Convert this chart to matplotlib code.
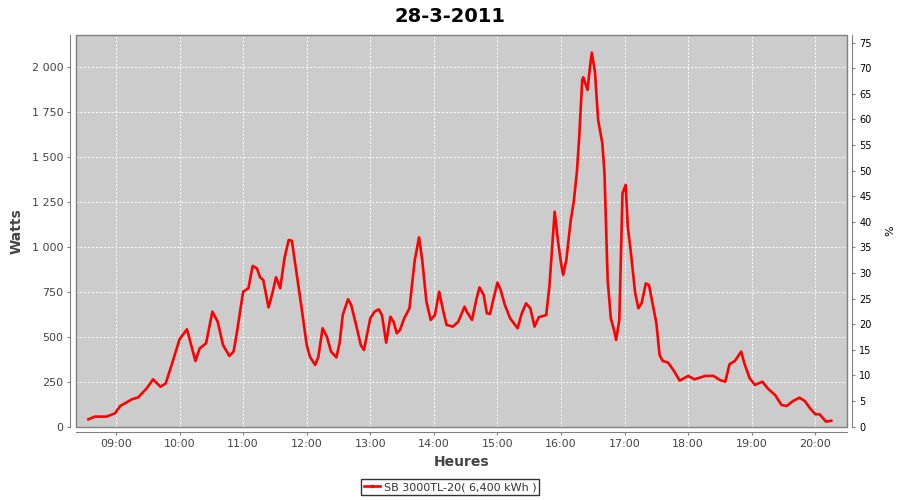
"""Production journalière de l'onduleur SB 3000TL-20 (28-3-2011)."""

import matplotlib
matplotlib.use("Agg")
import matplotlib.dates as mdates
import matplotlib.pyplot as plt
import pandas as pd
from matplotlib.lines import Line2D
from matplotlib.patches import Rectangle
from matplotlib.ticker import FuncFormatter, MultipleLocator

DAY = "2011-03-28"
TITLE = "28-3-2011"
SERIES_LABEL = "SB 3000TL-20( 6,400 kWh )"

# Relevés (heure, puissance en W)
TIMES = [
    "08:34", "08:40", "08:51", "08:59", "09:04", "09:15", "09:21", "09:29", "09:35", "09:42",
    "09:47", "09:53", "10:00", "10:07", "10:15", "10:19", "10:25", "10:31", "10:36", "10:41",
    "10:47", "10:51", "10:54", "11:00", "11:05", "11:09", "11:13", "11:16", "11:19", "11:24",
    "11:28", "11:31", "11:35", "11:39", "11:43", "11:46", "11:50", "11:55", "12:00", "12:03",
    "12:08", "12:11", "12:15", "12:19", "12:23", "12:28", "12:31", "12:34", "12:39", "12:42",
    "12:47", "12:51", "12:54", "13:00", "13:04", "13:08", "13:11", "13:15", "13:19", "13:22",
    "13:25", "13:28", "13:32", "13:37", "13:39", "13:42", "13:46", "13:49", "13:53", "13:57",
    "14:01", "14:05", "14:09", "14:12", "14:18", "14:23", "14:29", "14:31", "14:36", "14:40",
    "14:43", "14:47", "14:50", "14:53", "14:56", "15:00", "15:03", "15:07", "15:12", "15:19",
    "15:23", "15:27", "15:31", "15:35", "15:39", "15:46", "15:49", "15:54", "15:57", "16:00",
    "16:02", "16:05", "16:09", "16:12", "16:15", "16:17", "16:20", "16:21", "16:25", "16:27",
    "16:29", "16:32", "16:35", "16:39", "16:41", "16:44", "16:47", "16:50", "16:52", "16:55",
    "16:58", "17:01", "17:03", "17:06", "17:10", "17:13", "17:16", "17:20", "17:23", "17:27",
    "17:30", "17:33", "17:36", "17:41", "17:46", "17:52", "18:00", "18:06", "18:16", "18:24",
    "18:30", "18:35", "18:39", "18:44", "18:50", "18:53", "18:58", "19:03", "19:10", "19:15",
    "19:22", "19:28", "19:33", "19:39", "19:45", "19:50", "19:55", "20:00", "20:04", "20:10",
    "20:15",
]
WATTS = [
    41, 56, 56, 74, 115, 152, 163, 213, 263, 222,
    241, 352, 486, 541, 365, 435, 463, 639, 583, 454,
    393, 417, 519, 750, 769, 893, 880, 830, 815, 663,
    750, 830, 769, 935, 1037, 1033, 870, 667, 454, 389,
    343, 389, 547, 500, 417, 385, 463, 620, 708, 676,
    556, 454, 426, 602, 639, 652, 620, 467, 611, 583,
    519, 537, 602, 658, 769, 926, 1052, 926, 694, 593,
    620, 750, 639, 565, 556, 583, 667, 639, 593, 704,
    774, 732, 630, 626, 704, 800, 760, 676, 602, 547,
    630, 685, 658, 556, 608, 620, 778, 1194, 1037, 908,
    843, 926, 1139, 1250, 1417, 1593, 1926, 1941, 1871, 1982,
    2078, 1972, 1704, 1574, 1408, 815, 602, 537, 482, 593,
    1297, 1343, 1111, 963, 741, 658, 685, 796, 787, 667,
    574, 398, 365, 356, 315, 256, 282, 263, 282, 282,
    259, 250, 347, 365, 417, 352, 269, 232, 250, 213,
    176, 121, 115, 143, 161, 143, 102, 69, 69, 28,
    33,
]

LEFT_TICKS = [0, 250, 500, 750, 1000, 1250, 1500, 1750, 2000]
RIGHT_TICKS = list(range(0, 80, 5))

PLOT_BG = "#cccccc"
LINE_COLOR = "#ff0000"
LABEL_COLOR = "#444444"


def main() -> None:
    times = pd.to_datetime([f"{DAY} {t}" for t in TIMES])

    fig = plt.figure(figsize=(9, 5), dpi=100)
    ax = fig.add_axes([0.0841, 0.1466, 0.8567, 0.7834])
    ax.set_facecolor(PLOT_BG)

    ax.plot(times, WATTS, color=LINE_COLOR, linewidth=1.9, solid_joinstyle="round", zorder=3)

    ax.set_xlim(pd.Timestamp(f"{DAY} 08:22"), pd.Timestamp(f"{DAY} 20:29:36"))
    ax.set_ylim(0, 2176)
    ax.xaxis.set_major_locator(mdates.HourLocator())
    ax.xaxis.set_major_formatter(mdates.DateFormatter("%H:%M"))
    ax.set_yticks(LEFT_TICKS)
    ax.yaxis.set_major_formatter(FuncFormatter(lambda v, _: f"{v:,.0f}".replace(",", " ")))

    ax.grid(True, color="white", linestyle=(0, (2, 2)), linewidth=0.7)
    ax.set_axisbelow(True)

    # axes façon JFreeChart : lignes décalées du cadre du tracé
    for side in ("left", "bottom"):
        ax.spines[side].set_position(("outward", 4))
        ax.spines[side].set_color("#808080")
    for side in ("top", "right"):
        ax.spines[side].set_visible(False)
    ax.add_patch(Rectangle((0, 0), 1, 1, transform=ax.transAxes, fill=False,
                           edgecolor="#808080", linewidth=1.0, clip_on=False, zorder=4))

    ax.tick_params(axis="both", direction="out", length=2, color="#808080",
                   labelsize=8, labelcolor=LABEL_COLOR, pad=3)
    ax.set_xlabel("Heures", fontsize=10, fontweight="bold", color=LABEL_COLOR, labelpad=4)
    ax.set_ylabel("Watts", fontsize=10, fontweight="bold", color=LABEL_COLOR, labelpad=6)

    ax2 = ax.twinx()
    ax2.set_ylim(0, 76.5)
    ax2.yaxis.set_major_locator(MultipleLocator(5))
    ax2.set_yticks(RIGHT_TICKS)
    ax2.spines["right"].set_position(("outward", 4))
    ax2.spines["right"].set_color("#808080")
    for side in ("top", "left", "bottom"):
        ax2.spines[side].set_visible(False)
    ax2.tick_params(axis="y", direction="out", length=2, color="#808080",
                    labelsize=7, labelcolor="black", pad=3)
    ax2.set_ylabel("%", fontsize=8, color="black", labelpad=10)

    fig.suptitle(TITLE, x=0.5, y=0.985, fontsize=14, fontweight="bold")

    handle = Line2D([], [], color=LINE_COLOR, linewidth=1.9, marker="s", markersize=2)
    leg = fig.legend([handle], [SERIES_LABEL], loc="center", bbox_to_anchor=(0.5, 0.026),
                     frameon=True, fancybox=False, fontsize=8, handlelength=1.5,
                     handletextpad=0.3, borderpad=0.25, labelcolor="#333333")
    leg.get_frame().set_edgecolor("black")
    leg.get_frame().set_linewidth(1.0)

    fig.savefig("out.png", dpi=100)
    plt.close(fig)


if __name__ == "__main__":
    main()
